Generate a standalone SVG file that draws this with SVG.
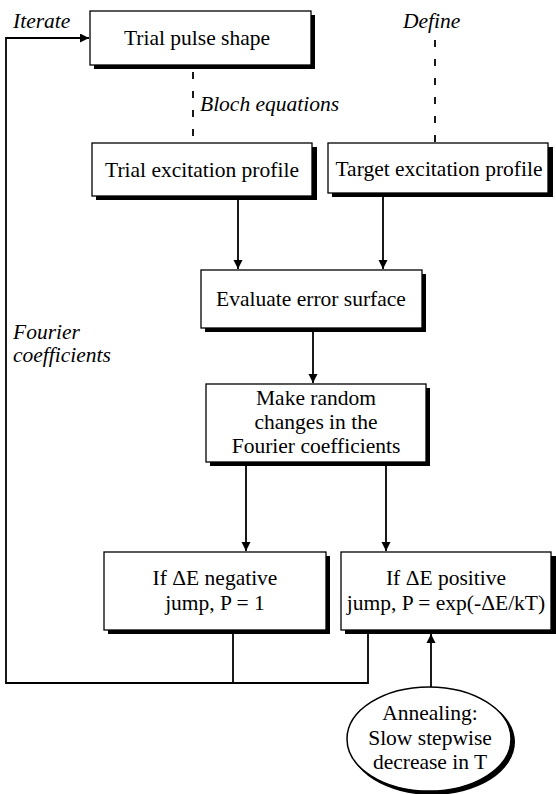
<svg xmlns="http://www.w3.org/2000/svg" width="556" height="794" viewBox="0 0 556 794">
<defs>
<marker id="ah" viewBox="0 0 10 10" refX="10" refY="5" markerWidth="9" markerHeight="14" markerUnits="userSpaceOnUse" orient="auto"><path d="M0,0 L10,5 L0,10 z" fill="#000"/></marker>
<marker id="ahv" viewBox="0 0 10 10" refX="10" refY="5" markerWidth="18" markerHeight="9" markerUnits="userSpaceOnUse" orient="auto"><path d="M0,0 L10,5 L0,10 z" fill="#000"/></marker>
</defs>
<style>
.sh{fill:#000}
.bx{fill:#fff;stroke:#000;stroke-width:1.3}
text{font-family:'Liberation Serif','DejaVu Serif',serif;font-size:21.5px;fill:#000}
.t{text-anchor:middle}
.i{font-style:italic}
.ln{stroke:#000;stroke-width:1.8;fill:none}
.ds{stroke:#000;stroke-width:1.8;fill:none;stroke-dasharray:7,12}
</style>
<rect width="556" height="794" fill="#fff"/>
<g id="connectors">
<polyline class="ln" points="233,632 233,683"/>
<polyline class="ln" points="368,632 368,683 6,683 6,38 89,38" marker-end="url(#ahv)"/>
<line class="ds" x1="193" y1="72" x2="193" y2="142"/>
<line class="ds" x1="435" y1="40" x2="435" y2="142"/>
<line class="ln" x1="238" y1="199" x2="238" y2="269" marker-end="url(#ah)"/>
<line class="ln" x1="383" y1="197" x2="383" y2="269" marker-end="url(#ah)"/>
<line class="ln" x1="313" y1="332" x2="313" y2="383" marker-end="url(#ah)"/>
<line class="ln" x1="246" y1="466" x2="246" y2="551" marker-end="url(#ah)"/>
<line class="ln" x1="386" y1="466" x2="386" y2="551" marker-end="url(#ah)"/>
<line class="ln" x1="431" y1="687" x2="431" y2="634" marker-end="url(#ah)"/>
</g>
<g id="labels">
<text class="i" x="13" y="28">Iterate</text>
<text class="i" x="403" y="28">Define</text>
<text class="i" x="200" y="111">Bloch equations</text>
<text class="i" x="13" y="339">Fourier</text>
<text class="i" x="13" y="362">coefficients</text>
</g>
<g id="trial-pulse">
<rect class="sh" x="94" y="15" width="221" height="54"/>
<rect class="bx" x="90" y="11" width="221" height="54"/>
<text class="t" x="197" y="45">Trial pulse shape</text>
</g>
<g id="trial-excitation">
<rect class="sh" x="96" y="147" width="221" height="53"/>
<rect class="bx" x="92" y="143" width="220" height="53"/>
<text class="t" x="202" y="177">Trial excitation profile</text>
</g>
<g id="target-excitation">
<rect class="sh" x="332" y="147" width="221" height="50"/>
<rect class="bx" x="328" y="143" width="220" height="50"/>
<text class="t" x="439" y="176">Target excitation profile</text>
</g>
<g id="evaluate">
<rect class="sh" x="205" y="274" width="221" height="58"/>
<rect class="bx" x="201" y="270" width="221" height="58"/>
<text class="t" x="311" y="306">Evaluate error surface</text>
</g>
<g id="make-random">
<rect class="sh" x="210" y="388" width="220" height="78"/>
<rect class="bx" x="206" y="384" width="220" height="78"/>
<text class="t" x="316" y="405">Make random</text>
<text class="t" x="316" y="429">changes in the</text>
<text class="t" x="316" y="453">Fourier coefficients</text>
</g>
<g id="negative">
<rect class="sh" x="108" y="556" width="222" height="78"/>
<rect class="bx" x="104" y="552" width="222" height="78"/>
<text class="t" x="215" y="585">If ΔE  negative</text>
<text class="t" x="215" y="610">jump, P = 1</text>
</g>
<g id="positive">
<rect class="sh" x="345" y="556" width="211" height="78"/>
<rect class="bx" x="341" y="552" width="210" height="78"/>
<text class="t" x="446" y="585">If ΔE positive</text>
<text class="t" x="446" y="610">jump, P = exp(-ΔE/kT)</text>
</g>
<g id="annealing">
<ellipse cx="432" cy="742" rx="83" ry="53" fill="#000"/>
<ellipse cx="429" cy="739" rx="82" ry="52" fill="#fff" stroke="#000" stroke-width="1.5"/>
<text class="t" x="430" y="720">Annealing:</text>
<text class="t" x="430" y="745">Slow stepwise</text>
<text class="t" x="430" y="769">decrease in T</text>
</g>
</svg>
